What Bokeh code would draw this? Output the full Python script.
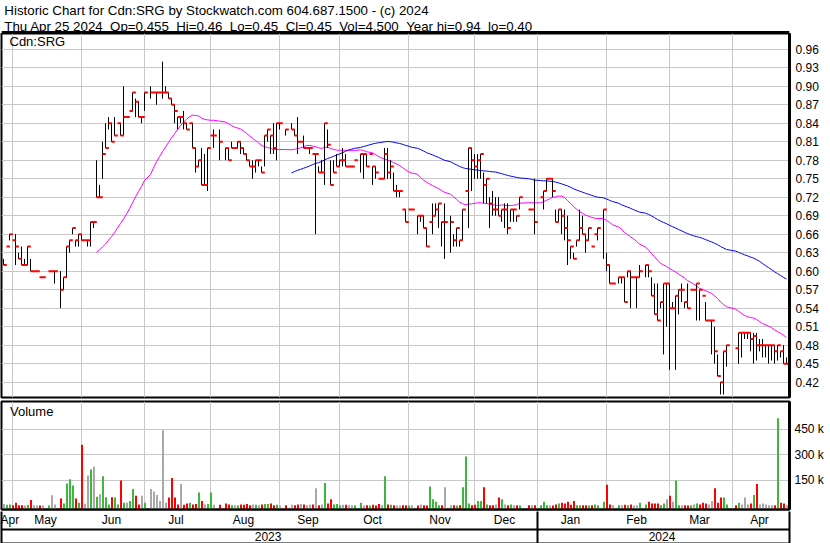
import numpy as np
import pandas as pd
from bokeh.embed import file_html
from bokeh.layouts import column
from bokeh.models import (ColumnDataSource, FixedTicker, Label, LinearAxis,
                          NumeralTickFormatter, Range1d, Span)
from bokeh.plotting import figure
from bokeh.resources import INLINE
from bokeh.transform import dodge

N = None
FONT = "Liberation Sans"
GRID = "#c8c8c8"
UP, DOWN, FLAT = "#3cb83c", "#ff0000", "#a8a8a8"

# ---------------------------------------------------------------------------
# Daily data, one slot per weekday from Apr 26 2023 to Apr 25 2024.
# None = no trade that day (holidays included).
# ---------------------------------------------------------------------------
dates = pd.bdate_range("2023-04-26", "2024-04-25")

close = [
    .61, .64, .66,                                                      # Apr
    .65, .64, .62, .61, .61, .64, .60, .60, .60, .59, .59, N, .60, .60, .60, N,
    .57, .59, .64, .65, .67, .65, .66,                                  # May
    .65, .65, .65, .68, .68, .72, .72, .79, .80, .84, .81, .82, .84, .82, .85,
    .85, .86, .89, .875, .85, .85, .89,                                 # Jun
    N, .89, .89, .89, .89, .89, .89, .88, .87, .86, .85, .85, .84, .83, .84,
    .80, .77, .78, .74, .74, .80,                                       # Jul
    .82, .82, N, .81, N, .80, .78, .80, .80, .81, .80, .79, .78, .77, .77, .78,
    .78, .76, .82, .83, .82, .80, .84,                                  # Aug
    .84, N, .83, N, .83, .82, .81, .81, .80, .80, .80, .79, .79, .76, .76, .84,
    .805, .74, .76, .77, .78,                                           # Sep
    .78, .77, .77, .77, .78, N, .79, .79, .77, .79, .77, .76, .75, .75, .79,
    .76, .77, .73, .73, .73, .70, .68,                                  # Oct
    .70, .70, N, .69, .69, .67, .64, .68, .69, .70, .71, .68, .68, N, .68, .65,
    .67, .65, .70, .73, .80, .78,                                       # Nov
    .77, .78, .79, .74, .75, .71, .70, .70, .69, .70, .70, .67, .70, .70, .69,
    .72, N, N, .70, .70, .68,                                           # Dec
    N, .72, .73, .75, .75, .73, .68, .70, .69, .67, .65, .64, .62, .65, .67,
    .66, .65, .67, .64, .66, .67, N, .70,                               # Jan
    .61, .58, .58, N, .59, .59, .55, .60, .59, .59, .59, .60, N, .61, .60, .56,
    .53, .52, .55, .58, .58,                                            # Feb
    .54, .54, .56, .57, .57, .55, .54, .57, .57, .58, .57, .56, .52, .52, .52,
    .47, .43, .42, .47, .48, N,                                         # Mar
    N, .475, .50, .50, .50, .50, .49, .495, .48, .48, .48, .48, .48, .48, .47,
    .48, .47, .45, .45,                                                 # Apr
]

high = [
    .62, .64, .66,
    .65, .66, .63, .64, .62, .64, .62, .60, .60, .59, .59, N, .60, .60, .60, N,
    .60, .59, .64, .65, .67, .65, .66,
    .66, .65, .65, .68, .68, .78, .74, .81, .84, .85, .84, .85, .84, .84, .90,
    .85, .86, .89, .88, .875, .85, .89,
    N, .90, .89, .89, .89, .94, .90, .89, .88, .87, .85, .85, .86, .84, .84,
    .84, .80, .78, .80, .79, .80,
    .82, .83, N, .83, N, .80, .80, .81, .80, .81, .81, .80, .79, .78, .78, .78,
    .78, .77, .82, .83, .82, .84, .84,
    .84, N, .83, N, .84, .83, .85, .81, .82, .80, .80, .79, .79, .77, .78, .84,
    .83, .78, .78, .79, .78,
    .80, .79, .77, .77, .78, N, .79, .79, .79, .79, .77, .77, .75, .75, .80,
    .80, .78, .76, .74, .73, .70, .70,
    .70, .70, N, .69, .69, .69, .67, .68, .71, .71, .71, .68, .71, N, .69, .66,
    .67, .65, .70, .73, .80, .80,
    .79, .79, .79, .76, .75, .72, .73, .72, .72, .70, .71, .71, .70, .70, .69,
    .72, N, N, .70, .70, .75,
    N, .72, .73, .75, .75, .75, .70, .70, .70, .70, .69, .64, .63, .65, .70,
    .69, .66, .67, .64, .66, .67, N, .70,
    .63, .61, .58, N, .59, .59, .59, .60, .60, .59, .59, .61, N, .61, .61, .59,
    .58, .58, .55, .58, .58,
    .58, .55, .56, .57, .58, .55, .58, .57, .57, .58, .57, .56, .55, .52, .52,
    .51, .465, .42, .47, .48, N,
    N, .475, .50, .50, .50, .50, .50, .50, .50, .49, .49, .48, .48, .48, .48,
    .48, .47, .48, .46,
]

low = [
    .61, .64, .65,
    .65, .61, .62, .61, .61, .61, .60, .60, .60, .59, .59, N, .60, .60, .58, N,
    .54, .57, .59, .63, .66, .64, .64,
    .65, .65, .64, .64, .67, .72, .72, .75, .80, .83, .81, .82, .84, .82, .82,
    .85, .86, .86, .85, .85, .84, .86,
    N, .88, .89, .87, .89, .88, .89, .88, .87, .84, .83, .84, .83, .83, .84,
    .80, .76, .77, .74, .74, .73,
    .82, .80, N, .78, N, .78, .78, .80, .80, .80, .79, .79, .78, .77, .75, .76,
    .77, .76, .77, .81, .79, .79, .78,
    .83, N, .82, N, .83, .82, .79, .81, .80, .80, .79, .79, .66, .76, .76, .74,
    .80, .74, .76, .77, .77,
    .77, .77, .77, .77, .78, N, .76, .75, .77, .79, .74, .75, .75, .75, .75,
    .75, .75, .73, .72, .72, .70, .68,
    .70, .70, N, .66, .68, .67, .64, .68, .66, .69, .67, .64, .62, N, .63, .64,
    .64, .64, .65, .73, .67, .73,
    .75, .75, .75, .71, .71, .67, .69, .69, .69, .68, .67, .66, .68, .68, .68,
    .70, N, N, .70, .70, .66,
    N, .72, .70, .73, .75, .72, .68, .68, .66, .65, .61, .62, .62, .64, .65,
    .66, .63, .65, .64, .66, .65, N, .62,
    .60, .58, .58, N, .58, .58, .55, .59, .54, .59, .54, .59, N, .59, .59, .56,
    .53, .52, .54, .465, .51,
    .44, .54, .44, .53, .55, .54, .54, .57, .57, .52, .52, .56, .52, .52, .465,
    .45, .43, .40, .40, .445, N,
    N, .475, .45, .46, .49, .49, .47, .45, .455, .47, .46, .46, .45, .455, .45,
    .455, .46, .45, .45,
]

# daily volume, thousands of shares
volume_k = [
    12, 8, 10,
    5, 20, 5, 5, 4, 6, 35, 5, 4, 4, 3, N, 3, 64, 10, N, 45, 15, 132, 158, 120,
    45, 20,
    360, 13, 180, 215, 230, 55, 70, 175, 52, 10, 52, 50, 10, 150, 20, 20, 30,
    100, 60, 10, 60, 20,
    N, 100, 85, 65, 30, 445, 20, 50, 165, 50, 10, 130, 8, 15, 20, 10, 12, 80,
    30, 10, 12,
    80, 8, N, 8, N, 15, 10, 5, 5, 5, 10, 8, 12, 5, 10, 8, 5, 10, 12, 12, 15, 5, 8,
    3, N, 5, N, 8, 5, 10, 12, 10, 5, 8, 10, 105, 5, 10, 135, 15, 40, 10, 12, 5,
    8, 8, 5, 5, 5, N, 20, 3, 5, 3, 8, 3, 12, 5, 175, 10, 8, 5, 3, 3, 5, 5,
    3, 5, N, 3, 10, 5, 3, 115, 40, 25, 5, 5, 110, N, 5, 5, 3, 5, 110, 290, 15, 5,
    8, 30, 30, 110, 10, 5, 5, 10, 50, 40, 10, 5, 10, 5, 5, 3, N, N, 5, 5, 5,
    N, 5, 25, 5, 3, 3, 10, 15, 20, 15, 25, 8, 30, 5, 5, 5, 5, 3, 5, 10, 5, N, 25,
    125, 10, 5, N, 5, 5, 8, 5, 10, 3, 5, 20, N, 10, 25, 15, 15, 15, 5, 15, 40,
    60, 25, 150, 5, 5, 5, 3, 5, 10, 15, 10, 20, 15, 10, 30, 105, 20, 50, 50, 10,
    N,
    N, 5, 20, 10, 50, 10, 15, 65, 130, 10, 15, 10, 5, 5, 5, 515, 20, 15, 4.5,
]

GAP = "\u00a0\u00a0"
header_1 = "Historic Chart for Cdn:SRG by Stockwatch.com 604.687.1500 - (c) 2024"
header_2 = GAP.join(["Thu Apr 25 2024", "Op=0.455", "Hi=0.46", "Lo=0.45",
                     "Cl=0.45", "Vol=4,500", "Year hi=0.94", "lo=0.40"])
price_ticks = [0.42, 0.45, 0.48, 0.51, 0.54, 0.57, 0.60, 0.63, 0.66, 0.69,
               0.72, 0.75, 0.78, 0.81, 0.84, 0.87, 0.90, 0.93, 0.96]
volume_ticks = [150000, 300000, 450000]
volume_labels = ["150 k", "300 k", "450 k"]


def to_float(values):
    return np.array([np.nan if v is None else v for v in values], dtype=float)


c, h, lo = to_float(close), to_float(high), to_float(low)
vol = to_float(volume_k) * 1000
slot = np.arange(len(dates))
traded = ~np.isnan(c)

# moving averages over the days that traded
cs = pd.Series(c[traded], index=slot[traded])
ma_short = cs.rolling(30).mean()
ma_long = cs.rolling(90).mean()
prev = cs.shift(1)
colour = np.where(cs > prev, UP, np.where(cs < prev, DOWN, FLAT))

bars = ColumnDataSource(dict(x=slot[traded], high=h[traded], low=lo[traded],
                             close=c[traded], vol=vol[traded], colour=colour,
                             ma_s=ma_short.values, ma_l=ma_long.values))

# slot geometry: 3 px per weekday over a 788 px frame
X0 = -2 / 3
X1 = X0 + 788 / 3
x_range = Range1d(X0, X1)

month_starts = pd.date_range("2023-05-01", "2024-04-01", freq="MS")
grid_slots = [int(np.searchsorted(dates, m, side="right") - 1) for m in month_starts]
edges = [X0] + grid_slots + [X1]
month_names = ["Apr"] + [m.strftime("%b") for m in month_starts]
month_centers = [round((edges[i] + edges[i + 1]) / 2 - 0.5, 1) for i in range(len(month_names))]
jan_slot = grid_slots[list(month_starts).index(pd.Timestamp("2024-01-01"))]
year_centers = [round((X0 + jan_slot) / 2 - 0.5, 1), round((jan_slot + X1) / 2 - 0.5, 1)]


def style_axis(ax, size="12px"):
    ax.major_label_text_font = FONT
    ax.major_label_text_font_size = size
    ax.major_label_text_color = "black"
    ax.major_tick_in = 0
    ax.major_tick_out = 0
    ax.minor_tick_in = 0
    ax.minor_tick_out = 0
    ax.axis_line_color = "black"


# ---------------- header ----------------
head = figure(width=830, height=33, x_range=Range1d(0, 830), y_range=Range1d(0, 33),
              toolbar_location=None, output_backend="svg", min_border=0,
              x_axis_location=None, y_axis_location=None)
head.grid.visible = False
head.outline_line_color = None
for txt, yy in ((header_1, 23.0), (header_2, 7.0)):
    head.add_layout(Label(x=3, y=yy, text=txt, text_font=FONT, text_font_size="13.3px",
                          text_color="black", text_baseline="alphabetic"))
head.add_layout(Span(location=1.5, dimension="width", line_color="black", line_width=2))

# ---------------- price panel ----------------
p = figure(width=830, height=366, x_range=x_range, y_range=Range1d(0.3951, 0.9856),
           x_axis_location=None, y_axis_location="right",
           toolbar_location=None, output_backend="svg",
           min_border_left=1, min_border_right=41, min_border_top=0, min_border_bottom=2)
p.outline_line_color = "black"
p.outline_line_width = 2
p.xgrid.ticker = FixedTicker(ticks=grid_slots)
p.grid.grid_line_color = GRID
p.grid.grid_line_alpha = 1
ya = p.yaxis[0]
ya.ticker = FixedTicker(ticks=price_ticks)
ya.formatter = NumeralTickFormatter(format="0.00")
style_axis(ya)
ya.axis_line_width = 3
ya.major_label_standoff = 6

p.line("x", "ma_s", source=bars, line_color="#ff00ff", line_width=1)
p.line("x", "ma_l", source=bars, line_color="#0000ff", line_width=1)
p.segment(x0="x", y0="low", x1="x", y1="high", source=bars, line_color="black", line_width=1)
p.rect(x=dodge("x", 0.55, range=x_range), y="close", width=1.1, height=2,
       height_units="screen", source=bars, fill_color="#ff0000", line_color=None)
p.add_layout(Label(x=8, y=348.5, x_units="screen", y_units="screen", text="Cdn:SRG",
                   text_font=FONT, text_font_size="13px", text_color="black"))

# ---------------- volume panel ----------------
vol_floor = -20000
v = figure(width=830, height=144, x_range=x_range, y_range=Range1d(vol_floor, 613000),
           y_axis_location="right", toolbar_location=None, output_backend="svg",
           min_border_left=1, min_border_right=41, min_border_top=2, min_border_bottom=34)
v.outline_line_color = "black"
v.outline_line_width = 2
v.xgrid.ticker = FixedTicker(ticks=grid_slots)
v.grid.grid_line_color = GRID
v.grid.grid_line_alpha = 1
va = v.yaxis[0]
va.ticker = FixedTicker(ticks=volume_ticks)
va.major_label_overrides = dict(zip(volume_ticks, volume_labels))
style_axis(va)
va.axis_line_width = 3
va.major_label_standoff = 5

v.vbar(x=dodge("x", 1 / 6, range=x_range), top="vol", bottom=vol_floor, width=2 / 3,
       source=bars, fill_color="colour", line_color=None)
v.add_layout(Label(x=8.5, y=90.5, x_units="screen", y_units="screen", text="Volume",
                   text_font=FONT, text_font_size="13px", text_color="black"))

# month names under the volume panel
ma = v.xaxis[0]
ma.ticker = FixedTicker(ticks=month_centers)
ma.major_label_overrides = dict(zip(month_centers, month_names))
style_axis(ma)
ma.axis_line_width = 2
ma.major_label_standoff = 3

# year row, with dividers at the frame edges and the turn of the year
ya2 = LinearAxis(ticker=FixedTicker(ticks=year_centers,
                                    minor_ticks=[X0 + 0.01, jan_slot, X1 - 0.01]),
                 major_label_overrides=dict(zip(year_centers, ["2023", "2024"])))
style_axis(ya2)
ya2.axis_line_width = 2
ya2.minor_tick_in = 18
ya2.minor_tick_out = 16
ya2.minor_tick_line_width = 2
ya2.minor_tick_line_color = "black"
ya2.major_label_standoff = -14
v.add_layout(ya2, "below")

# closing rule along the bottom
edge = LinearAxis(ticker=FixedTicker(ticks=[]))
style_axis(edge)
edge.axis_line_width = 2
edge.major_label_standoff = 0
v.add_layout(edge, "below")

layout = column(head, p, v, spacing=0)
open("out.html", "w").write(file_html(layout, INLINE))
